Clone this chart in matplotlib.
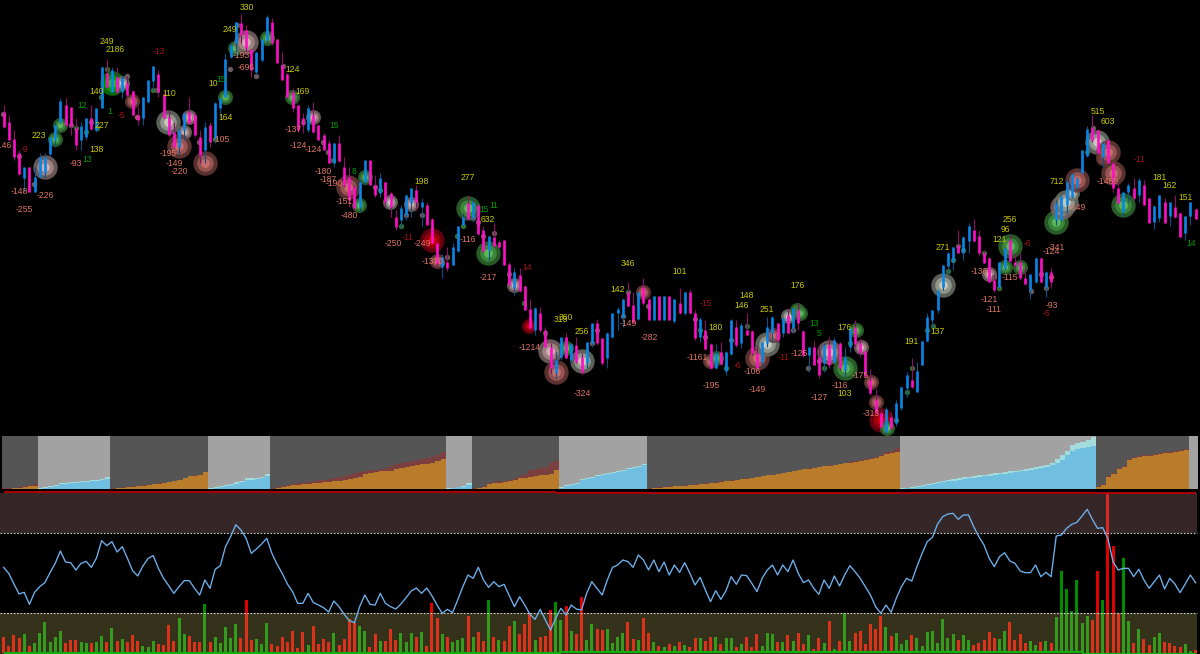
"""Trading chart: candles with trade bubbles, regime strip, oscillator and volume."""

import numpy as np
import matplotlib
matplotlib.use("Agg")
import matplotlib.pyplot as plt

# candle readings, rows in 1/3 pixel steps from the top of the chart
wick_hi = [315, 345, 390, 450, 500, 502, 500, 460, 460, 410, 370, 293, 293, 320, 355, 365, 355, 315, 323, 200,
           178, 200, 200, 225, 228, 270, 320, 290, 240, 198, 210, 280, 330, 365, 385, 340, 292, 335, 390, 365,
           365, 305, 293, 160, 130, 65, 42, 75, 148, 155, 118, 45, 55, 118, 155, 220, 265, 315, 340, 315,
           305, 375, 400, 420, 430, 405, 470, 500, 555, 535, 480, 480, 525, 520, 542, 575, 630,
           615, 585, 565, 555, 595, 605, 655, 730, 762, 742, 730, 677, 640, 585, 595, 615, 678, 708, 668, 720,
           720, 785, 805, 805, 855, 898, 920, 920, 980, 1030, 1055, 1010, 1000, 1030, 1010, 1060, 1025, 970, 958, 1015,
           995, 940, 920, 898, 845, 875, 875, 835, 895, 887, 887, 887, 887, 897, 865, 875, 868, 930, 950, 960,
           1030, 1033, 1025, 1053, 958, 960, 970, 938, 990, 1035, 1025, 950, 948, 970, 955, 925, 925, 910,
           990, 1040, 1022, 1035, 1030, 1012, 1012, 1025, 1040, 980, 960, 1015, 1053, 1108, 1168, 1228, 1220, 1235, 1200, 1158,
           1115, 1075, 1085, 1022, 940, 930, 870, 795, 755, 740, 690, 708, 670, 658, 690, 750, 770, 825, 785, 742,
           705, 760, 760, 800, 822, 772, 772, 813, 803, 600, 585, 538, 520, 530, 450, 378, 345, 388, 425, 418,
           485, 550, 573, 550, 533, 533, 540, 595, 615, 585, 595, 607, 585, 635, 648, 605, 625]
body_hi = [335, 365, 418, 460, 500, 502, 530, 470, 470, 410, 375, 303, 315, 320, 385, 378, 355, 355, 323, 200,
           220, 210, 230, 235, 250, 272, 345, 292, 240, 198, 222, 282, 350, 395, 390, 340, 335, 345, 410, 380,
           375, 310, 293, 178, 135, 65, 70, 90, 148, 155, 118, 52, 65, 118, 195, 222, 275, 315, 355, 325,
           345, 375, 405, 430, 430, 430, 500, 530, 560, 545, 480, 480, 555, 535, 545, 580, 650,
           625, 585, 565, 570, 605, 615, 658, 730, 770, 785, 740, 677, 650, 610, 605, 615, 690, 708, 710, 725,
           720, 792, 815, 825, 858, 928, 925, 938, 990, 1040, 1080, 1010, 1010, 1032, 1035, 1070, 1025, 970, 970, 1015,
           1000, 940, 928, 898, 875, 915, 875, 860, 898, 887, 887, 887, 887, 897, 908, 875, 875, 940, 958, 990,
           1032, 1060, 1055, 1055, 960, 980, 975, 990, 992, 1060, 1025, 980, 950, 970, 955, 945, 925, 930,
           992, 1042, 1042, 1070, 1035, 1035, 1020, 1028, 1070, 985, 982, 1030, 1053, 1140, 1200, 1240, 1228, 1250, 1208, 1160,
           1125, 1140, 1112, 1022, 950, 930, 870, 795, 760, 740, 735, 710, 678, 690, 708, 760, 773, 840, 785, 745,
           720, 785, 785, 835, 822, 773, 773, 815, 815, 610, 588, 545, 522, 535, 450, 388, 385, 390, 430, 420,
           490, 565, 575, 555, 565, 540, 555, 595, 617, 585, 607, 607, 622, 638, 648, 605, 627]
body_lo = [380, 420, 472, 522, 535, 575, 575, 530, 520, 462, 420, 365, 375, 378, 435, 420, 410, 388, 390, 325,
           260, 275, 275, 275, 285, 345, 360, 355, 305, 242, 275, 355, 405, 440, 440, 390, 370, 405, 465, 450,
           425, 415, 325, 290, 170, 130, 105, 145, 210, 215, 180, 120, 130, 190, 240, 292, 325, 390, 375, 390,
           395, 420, 450, 490, 490, 482, 555, 600, 625, 620, 545, 555, 585, 580, 605, 620, 680,
           660, 645, 610, 605, 620, 675, 730, 790, 800, 805, 795, 752, 675, 658, 655, 702, 752, 750, 738, 740,
           795, 855, 865, 873, 930, 985, 990, 990, 1040, 1105, 1120, 1070, 1075, 1080, 1085, 1115, 1090, 1030, 1030, 1090,
           1075, 1012, 940, 950, 918, 965, 958, 910, 960, 960, 960, 960, 960, 962, 940, 940, 940, 1015, 1010, 1048,
           1105, 1105, 1092, 1112, 1063, 1035, 1028, 1005, 1060, 1105, 1085, 1030, 1000, 1020, 1000, 1000, 985, 970,
           1065, 1065, 1095, 1125, 1090, 1095, 1085, 1105, 1110, 1040, 1032, 1060, 1128, 1180, 1240, 1280, 1295, 1285, 1270, 1225,
           1165, 1162, 1175, 1095, 1022, 960, 930, 860, 798, 785, 760, 760, 722, 722, 760, 788, 845, 870, 860, 805,
           782, 795, 835, 852, 870, 845, 845, 860, 845, 660, 660, 615, 592, 560, 520, 468, 420, 460, 470, 490,
           565, 608, 635, 575, 595, 585, 615, 668, 665, 655, 668, 648, 652, 710, 700, 648, 658]
wick_lo = [385, 420, 480, 525, 575, 575, 575, 530, 535, 470, 440, 370, 380, 405, 450, 450, 420, 390, 395, 325,
           265, 280, 280, 295, 290, 345, 375, 375, 305, 270, 290, 355, 410, 440, 465, 420, 372, 410, 490, 490,
           440, 430, 350, 290, 175, 165, 130, 160, 230, 225, 185, 130, 135, 190, 240, 295, 335, 395, 400, 395,
           400, 420, 450, 490, 500, 485, 560, 620, 630, 635, 555, 555, 590, 590, 620, 650, 690,
           685, 660, 650, 630, 677, 675, 730, 800, 835, 813, 795, 755, 675, 660, 665, 705, 755, 780, 740, 745,
           795, 855, 885, 875, 930, 990, 1005, 995, 1040, 1120, 1135, 1080, 1075, 1090, 1090, 1125, 1105, 1040, 1035, 1095,
           1105, 1015, 990, 980, 920, 970, 960, 915, 960, 960, 960, 960, 960, 970, 942, 945, 942, 1020, 1025, 1050,
           1108, 1108, 1095, 1125, 1065, 1040, 1045, 1008, 1065, 1110, 1100, 1040, 1025, 1025, 1010, 1000, 1000, 990,
           1070, 1115, 1095, 1135, 1115, 1105, 1090, 1110, 1130, 1055, 1040, 1070, 1130, 1185, 1245, 1285, 1300, 1290, 1278, 1230,
           1190, 1165, 1175, 1095, 1025, 985, 938, 870, 820, 810, 760, 780, 760, 725, 765, 790, 845, 875, 865, 810,
           785, 800, 840, 855, 898, 848, 848, 890, 865, 675, 662, 640, 595, 570, 520, 470, 425, 462, 500, 492,
           575, 610, 650, 605, 600, 605, 615, 670, 688, 665, 670, 678, 655, 710, 720, 675, 658]
candle_dir = ("mmmmbmbbbbbbmmmbbmbbmbmbmmmbbbmmmmbbmmmbmbbbbbmmmbbbmmmmmmmbmmmmbmmmmbbmmbmmm"
              "bbbmbmmmbmbbbmbmmbmmmmbmmmbmmmbbmbmmbbmmbbbbmmbmmbmbmbmbmmbmmbmbbmbmmmbbbmbmbm"
              "mbmmbmbmbbmmmmmmbmbbbmbbbbbbbbmbbmmmmmbbmmmmbbmbmbbbbbbbmmbmmmbbmbmmbbmbmmbbm")

# bubbles: column, row in pixels, size class 1-3, colour class
bubble_x = [3, 19, 34, 45, 55, 60, 71, 76, 86, 91, 97, 101, 107, 112, 122, 127, 132, 137, 153, 157, 168, 184, 189,
            179, 199, 205, 215, 225, 230, 235, 237, 246, 256, 267, 283, 292, 303, 313, 323, 328, 333, 348, 359,
            365, 375, 380, 390, 401, 406, 411, 422, 432, 437, 442, 447, 457, 463, 468, 473, 478, 483, 488, 494,
            509, 514, 524, 529, 545, 550, 566, 556, 572, 582, 592, 597, 623, 628, 643, 648, 695, 700, 705, 710,
            716, 726, 731, 747, 757, 767, 773, 788, 793, 797, 800, 808, 819, 824, 829, 845, 850, 856, 861, 871,
            876, 881, 887, 896, 907, 912, 927, 933, 943, 948, 953, 958, 963, 984, 989, 994, 999, 1005, 1010, 1020,
            1031, 1041, 1046, 1051, 1056, 1062, 1066, 1072, 1077, 1087, 1093, 1097, 1103, 1108, 1113, 1123]
bubble_y = [114, 156, 184, 167, 139, 125, 125, 128, 132, 122, 128, 97, 69, 83, 83, 76, 101, 117, 90, 90, 122, 132, 117,
            146, 142, 163, 139, 97, 69, 48, 25, 42, 76, 38, 66, 97, 122, 117, 142, 152, 160, 187, 205,
            177, 187, 190, 202, 226, 215, 204, 215, 240, 261, 263, 257, 236, 226, 208, 218, 222, 236, 253, 233,
            274, 285, 303, 326, 333, 351, 348, 372, 358, 361, 343, 330, 316, 292, 292, 306, 319, 330, 337, 361,
            358, 368, 340, 326, 358, 344, 335, 316, 330, 310, 313, 368, 361, 368, 352, 368, 343, 330, 347, 382,
            402, 420, 428, 420, 392, 368, 330, 326, 285, 271, 260, 246, 250, 253, 274, 277, 288, 267, 246, 267,
            291, 274, 288, 277, 222, 207, 202, 193, 180, 152, 128, 142, 158, 152, 173, 205]
bubble_size = [1, 1, 1, 3, 2, 2, 1, 1, 1, 1, 1, 1, 1, 3, 2, 1, 2, 1, 1, 1, 3, 2, 2,
               3, 1, 3, 1, 2, 1, 2, 1, 3, 1, 2, 1, 2, 1, 2, 1, 1, 1, 3, 2,
               2, 1, 1, 2, 1, 1, 2, 1, 3, 2, 1, 1, 1, 1, 3, 1, 1, 1, 3, 1,
               1, 2, 1, 2, 1, 3, 2, 3, 1, 3, 1, 1, 1, 1, 2, 1, 1, 1, 1, 2,
               2, 1, 1, 1, 3, 3, 2, 2, 1, 2, 2, 1, 1, 1, 3, 3, 1, 2, 2, 2,
               2, 3, 2, 1, 1, 1, 1, 1, 3, 1, 1, 1, 1, 1, 2, 1, 1, 2, 3, 2,
               1, 1, 1, 1, 3, 3, 3, 2, 3, 1, 1, 3, 2, 3, 3, 3]
bubble_kind = ("nnnpggnddndddGwnrrddwpp"
               "rnrdgngnpngngdpnndrg"
               "gndwdnpnRrnnddgnnngn"
               "npdRdpgrnwnnndrnndnr"
               "gdndrwrwnggnndpgdgpr"
               "rRgdddddwdddddpndggg"
               "nnnrgpwwrdnwrrrg")

# text labels: column, row in pixels, text, colour class
label_x = [3, 24, 39, 82, 76, 87, 97, 102, 97, 110, 121, 107, 115, 19, 45, 24,
           159, 169, 168, 174, 179, 226, 221, 213, 221, 230, 247, 241, 246, 293, 303,
           293, 298, 313, 334, 323, 328, 334, 354, 344, 349,
           422, 407, 393, 422, 433, 468, 484, 494, 488, 468, 488, 527, 530, 628, 618,
           680, 706, 747, 742, 767, 716, 628, 649, 697, 737, 752, 711, 757, 783, 799,
           566, 561, 582, 582, 798,
           814, 819, 845, 860, 840, 845, 819, 871, 912, 938, 943, 1010, 1005, 1000, 1027,
           979, 1010, 989, 994, 1056, 1051, 1052, 1046, 1057, 1077, 1098, 1108, 1139, 1108,
           1160, 1170, 1186, 1191]
label_y = [146, 150, 136, 105, 163, 160, 150, 125, 91, 112, 115, 42, 49, 192, 195, 209,
           52, 94, 153, 163, 171, 118, 139, 84, 80, 29, 7, 56, 67, 69, 91,
           129, 146, 150, 125, 171, 180, 184, 171, 202, 216,
           181, 237, 244, 243, 261, 177, 209, 205, 219, 240, 278, 268, 348, 264, 289,
           271, 303, 296, 306, 310, 327, 323, 337, 358, 365, 372, 386, 389, 358, 354,
           317, 320, 331, 393, 286,
           323, 334, 327, 375, 386, 393, 397, 414, 341, 331, 247, 219, 229, 240, 243,
           271, 278, 299, 309, 247, 252, 306, 314, 181, 208, 112, 122, 160, 181,
           177, 185, 198, 243]
label_text = ["-146", "-9", "223", "12", "-93", "13", "138", "227", "140", "1", "-5", "249", "2186", "-148", "-226", "-255",
              "-13", "110", "-195", "-149", "-220", "164", "-105", "10", "15", "249", "330", "-193", "-696", "124", "169",
              "-137", "-124", "-124", "15", "-180", "-187", "-190", "8", "-151", "-480",
              "198", "-11", "-250", "-249", "-1370", "277", "15", "11", "632", "-116", "-217", "14", "-1214", "346", "142",
              "101", "-15", "148", "146", "251", "180", "-149", "-282", "-1161", "-6", "-106", "-195", "-149", "-11", "-125",
              "360", "313", "256", "-324", "176",
              "13", "5", "176", "-175", "-116", "103", "-127", "-313", "191", "137", "271", "256", "96", "121", "-6",
              "-136", "-115", "-121", "-111", "-341", "-124", "-93", "-5", "712", "-549", "515", "603", "-11", "-1489",
              "181", "162", "151", "14"]
label_kind = ("sdygsgyyygdyysss"
              "dysssysygyyssyy"
              "sssgsssgss"
              "ydsssyggyssdsyy"
              "ydyyyysssdsssds"
              "yyysy"
              "ggyssyssyyyyyyd"
              "sssssssdysyyds"
              "yyyg")

# regime strip: bars in each alternating dark/light run, then stacked heights
regime_len = [7, 14, 19, 12, 34, 5, 17, 17, 49, 38, 18, 2]
area_main = [0.5, 0.5, 1, 1.5, 2, 3, 3.5,
             0.5, 1.5, 2.5, 3.5, 5, 5.5, 6, 6.5, 7, 7.5, 8, 8.5, 9, 10.5,
             0.5, 1, 1.5, 2, 2.5, 3, 3.5, 4, 5, 5.5, 6, 7, 8, 9, 11, 13, 13.5, 14, 17,
             0.5, 1.5, 2.5, 3.5, 4.5, 5, 7, 9, 9.5, 10, 11, 13,
             0.5, 1, 2, 3, 4, 4.5, 5, 5.5, 6, 6.5, 7, 7.5, 8, 8.5, 9, 10, 11, 12, 15, 16, 17, 18, 18, 18.5, 20, 21, 22,
             23, 24, 25, 25.5, 26, 28, 30,
             0.5, 1, 2, 2.5, 4.5,
             0.5, 1, 2, 5, 6, 6.5, 7, 8, 9.5, 11, 11.5, 12, 13.5, 14, 14, 15, 19,
             1, 3, 4, 5, 9, 10, 11, 13, 14, 15, 16, 17, 18, 20, 21, 22, 24,
             0.5, 1, 1.5, 2, 2.5, 3, 3, 3.5, 4, 4.5, 5, 5.5, 6, 6.5, 7.5, 8, 8.5, 9, 10, 10.5, 11, 12, 13, 14, 14, 15,
             16, 17, 18, 19, 20, 20.5, 21, 22, 23, 23.5, 24, 25, 26, 26.5, 27, 28, 29, 30, 31, 33, 35, 36, 37.5,
             0.5, 1, 1.5, 2.5, 3.5, 4.5, 5.5, 6, 7, 8, 8.5, 9.5, 10, 11, 11.5, 12, 13, 13.5, 14, 15, 15.5, 16, 17, 18,
             18.5, 19.5, 20, 21, 22, 24, 26, 29, 34, 38, 40, 41, 42, 43,
             2, 4, 12, 15, 20, 22, 29, 31, 32, 33, 33, 34, 35, 36, 36, 37, 38, 39,
             0, 0]
area_top = [1, 1, 1.5, 2.5, 3.5, 4.5, 5,
            1, 2, 3, 4.5, 6, 6.5, 7, 7.5, 8, 8.5, 9, 9.5, 10, 11.7,
            0.8, 1.3, 1.8, 2.3, 2.8, 3.3, 3.8, 4.3, 5.3, 5.8, 6.3, 7.3, 8.3, 9.3, 11.3, 13.3, 13.8, 14.3, 17.3,
            0.8, 1.8, 3, 4, 5.5, 7, 8.5, 11, 11, 11.5, 12.5, 14.7,
            1, 2, 3, 4, 5, 6, 6.5, 7, 8, 9, 9.5, 10, 11, 12, 13, 14, 16, 17, 18, 19, 19, 20, 21, 23, 25, 26, 27, 28, 29,
            30, 31, 32, 34, 37,
            1, 1.5, 2.5, 3, 5.7,
            1, 1.5, 3, 6, 7, 8, 8, 9.5, 11, 13, 15, 19, 20, 21, 22, 26, 28,
            2, 4, 5, 6, 10, 11, 12, 14, 15, 16, 17, 18, 19, 21, 22, 23, 25,
            1, 1.5, 2, 2.5, 3, 3.5, 3.5, 4, 4.5, 5, 5.5, 6, 6.5, 7, 8, 8.5, 9, 9.5, 10.5, 11, 11.5, 12.5, 13.5, 14.5,
            14.5, 15.5, 16.5, 17.5, 18.5, 19.5, 20.5, 21, 21.5, 22.5, 23.5, 24, 24.5, 25.5, 26.5, 27, 28, 29, 30, 31,
            32, 34, 37, 38, 41,
            1, 1.5, 2, 3, 4, 5, 6, 7, 8, 9, 10, 11, 12, 12.5, 13, 14, 14.5, 15, 16, 16.5, 17, 18, 18.5, 19, 20, 21, 22,
            23, 24, 26, 30, 34, 38, 44, 46, 47, 49, 52,
            2.7, 4.7, 12.7, 15.7, 20.7, 22.7, 29.7, 31.7, 32.7, 33.7, 33.7, 34.7, 35.7, 36.7, 36.7, 37.7, 38.7, 39.7,
            0, 0]

# oscillator readings, rows in 1/3 pixel steps below row 430
osc_row = [412, 430, 462, 492, 487, 523, 487, 470, 458, 428, 400, 363, 396, 398, 420, 400, 394, 412, 384, 332,
           347, 335, 366, 350, 385, 422, 438, 408, 385, 377, 415, 445, 467, 490, 470, 452, 452, 475, 495, 450,
           475, 418, 407, 350, 320, 284, 300, 325, 370, 357, 342, 325, 370, 403, 430, 462, 485, 520, 520, 490,
           517, 525, 533, 546, 513, 530, 553, 572, 578, 530, 495, 523, 525, 490, 520, 530, 537,
           522, 503, 483, 474, 490, 474, 497, 525, 550, 538, 548, 510, 470, 435, 445, 412, 450, 472, 455, 470,
           463, 497, 530, 500, 525, 553, 568, 538, 570, 600, 565, 535, 555, 525, 537, 540, 490, 455, 475, 495,
           450, 412, 405, 390, 395, 412, 375, 390, 420, 390, 425, 396, 435, 405, 427, 398, 430, 465, 442, 480,
           515, 482, 508, 482, 440, 463, 435, 437, 460, 485, 445, 420, 405, 435, 405, 425, 390, 430,
           458, 450, 475, 493, 450, 475, 438, 468, 435, 407, 425, 445, 470, 495, 530, 550, 525, 547, 505, 470,
           445, 453, 410, 370, 335, 322, 282, 260, 252, 250, 268, 255, 255, 290, 320, 345, 385, 410, 380, 368,
           393, 400, 423, 428, 428, 405, 440, 427, 440, 318, 315, 295, 283, 277, 258, 238, 268, 295, 293, 325,
           395, 420, 415, 415, 440, 418, 450, 475, 455, 435, 477, 445, 462, 488, 462, 435, 458]

# volume bars, height in 1/3 pixel steps
volume = [48, 23, 55, 45, 58, 23, 30, 62, 93, 35, 48, 67, 30, 40, 40, 33, 30, 30, 35, 52, 33, 75, 37, 42, 33, 55, 37,
          23, 18, 37, 28, 25, 85, 37, 106, 57, 52, 34, 34, 149, 33, 50, 32, 79, 46, 87, 45, 160, 40, 42, 29, 90, 28,
          22, 50, 34, 67, 17, 64, 25, 82, 28, 42, 33, 60, 25, 42, 104, 92, 83, 66, 20, 58, 38, 37, 72, 40,
          60, 33, 60, 48, 65, 23, 152, 106, 58, 50, 35, 40, 46, 112, 48, 64, 38, 159, 50, 40, 37, 83, 97, 58, 87, 122,
          40, 48, 52, 131, 155, 100, 141, 68, 58, 170, 40, 87, 72, 70, 73, 30, 48, 62, 95, 43, 39, 106, 60, 34, 23, 18,
          27, 23, 33, 25, 18, 45, 45, 37, 48, 50, 28, 45, 46, 19, 27, 50, 20, 58, 22, 62, 58, 33, 35, 55, 37, 60,
          28, 55, 13, 47, 30, 97, 12, 37, 120, 37, 62, 68, 28, 89, 73, 112, 80, 52, 62, 29, 40, 55, 45, 22, 65, 68, 30,
          103, 46, 58, 40, 55, 41, 25, 31, 39, 63, 47, 43, 67, 94, 41, 58, 30, 37, 25, 34, 38, 31, 108, 248, 194, 127,
          219, 90, 111, 101, 247, 159, 480, 323, 120, 287, 97, 32, 73, 43, 25, 50, 60, 33, 32, 23, 18, 27, 6, 10]
volume_dir = ("rrrrgrggggggrrrggrggrgrgrrrgggrrrrggrrrgrgggggrrrgggrrrrrrrgrrrrgrrrrggrrgrrr"
              "gggrgrrrgrgggrgrrgrgrrgrrrgrrrggrgrrggrrggggrrgrrgrgrgrgrrgrrgrggrgrrrgggrgrgr"
              "rgrrgrgrggrrrrrrgrgggrggggggggrggrrrrrggrrrrggrgrgggggggrrgrrrggrgrrggrrrrggr")

# signal lines along the panel edges: bar where each level starts, and its row
red_start = [0, 107, 210]
red_row = [186, 190, 188]
green_start = [0, 108, 209]
green_row = [669, 666, 671]

# outer ring, middle ring, centre
BUBBLE_COLORS = {"g": ("#2f6b2f", "#3f8f3f", "#63bf63"),
                 "G": ("#0a7a0a", "#0aa00a", "#20d020"),
                 "w": ("#6c7268", "#9aa094", "#d0d0c2"),
                 "p": ("#7c6666", "#a88a8a", "#d8b8b8"),
                 "r": ("#6a3a38", "#a05a58", "#d07070"),
                 "R": ("#700010", "#a00010", "#e00010")}
DOT_COLORS = {"n": "#6a5a5a", "d": "#336b33", "g": "#3f8f3f", "r": "#a05a58", "p": "#b09090"}
LABEL_COLORS = {"y": "#c8c800", "g": "#009a00", "s": "#e07462", "d": "#a01414"}
BUBBLE_RADIUS = {1: 2.7, 2: 7.5, 3: 12.2}


def panel(fig, row_top, row_bottom):
    ax = fig.add_axes([0, 1 - row_bottom / 654, 1, (row_bottom - row_top) / 654])
    ax.set_facecolor("none")
    ax.set_xlim(0, 1200)
    ax.axis("off")
    return ax


def draw_candles(ax, bar_x):
    hi, lo = np.array(wick_hi) / 3, np.array(wick_lo) / 3
    top, bot = np.array(body_hi) / 3, np.array(body_lo) / 3
    is_up = np.array([c == "b" for c in candle_dir])
    for mask, wick_color, body_color in [(is_up, "#0c5088", "#0a86e8"), (~is_up, "#8c0e6a", "#ff10c8")]:
        ax.vlines(bar_x[mask], hi[mask], lo[mask], color=wick_color, linewidth=0.8, capstyle="butt", zorder=3)
        ax.vlines(bar_x[mask], top[mask], bot[mask], color=body_color, linewidth=1.9, capstyle="butt", zorder=4)


def draw_bubbles(ax):
    rings = [(1.0, 0), (0.68, 1), (0.36, 2)]
    for x, y, size, kind in zip(bubble_x, bubble_y, bubble_size, bubble_kind):
        radius = BUBBLE_RADIUS[size]
        if size == 1:
            ax.scatter(x, y, s=(2 * radius * 0.72) ** 2, color=DOT_COLORS[kind], linewidths=0, zorder=2.5)
            continue
        for scale, idx in rings:
            ax.scatter(x, y, s=(2 * radius * scale * 0.72) ** 2, color=BUBBLE_COLORS[kind][idx],
                       alpha=0.85, linewidths=0, zorder=2)


def draw_regimes(ax, bar_x):
    edges = np.concatenate([[2], (bar_x[:-1] + bar_x[1:]) / 2 + 1, [1198]])
    start = 0
    for run, n_bars in enumerate(regime_len):
        stop = start + n_bars
        light = run % 2 == 1
        ax.axvspan(edges[start], edges[stop], color="#a2a2a2" if light else "#555555", linewidth=0)
        span = edges[start:stop + 1]
        ax.stairs(area_top[start:stop], span, fill=True, color="#a2dcdc" if light else "#7c3f3f")
        ax.stairs(area_main[start:stop], span, fill=True, color="#70bee0" if light else "#b97c2a")
        start = stop


def draw_steps(ax, bar_x, starts, rows, color):
    ends = starts[1:] + [len(bar_x) - 1]
    for first, last, row in zip(starts, ends, rows):
        ax.plot([bar_x[first], bar_x[last]], [row, row], color=color, linewidth=1.5, solid_capstyle="butt", zorder=5)


def main():
    n_bars = len(wick_hi)
    bar_x = 3.6 + 5.16 * np.arange(n_bars)

    fig = plt.figure(figsize=(12, 6.54), dpi=100, facecolor="black")
    plt.rcParams["font.family"] = ["Liberation Sans", "DejaVu Sans"]

    ax_price = panel(fig, 0, 435)
    ax_price.set_ylim(435, 0)
    draw_bubbles(ax_price)
    draw_candles(ax_price, bar_x)
    for x, y, text, kind in zip(label_x, label_y, label_text, label_kind):
        ax_price.text(x, y, text, color=LABEL_COLORS[kind], fontsize=6.2, ha="center", va="center", zorder=6)

    ax_strip = panel(fig, 436, 489)
    ax_strip.set_ylim(0, 53)
    draw_regimes(ax_strip, bar_x)

    # volume sits under the tinted bands, the oscillator above them
    ax_vol = panel(fig, 490, 654)
    ax_vol.set_ylim(-2, 490)
    vol_colors = ["#e00000" if c == "r" else "#008c00" for c in volume_dir]
    ax_vol.bar(bar_x, volume, width=3.0, color=vol_colors, linewidth=0)

    ax_osc = panel(fig, 490, 654)
    ax_osc.set_ylim(672, 180)
    ax_osc.axhspan(190, 310, xmin=0, xmax=1197 / 1200, color="#d498a0", alpha=0.25, linewidth=0)
    ax_osc.axhspan(550, 672, xmin=0, xmax=1197 / 1200, color="#d4c870", alpha=0.25, linewidth=0)
    for row in (310, 550):
        ax_osc.plot([0, 1197], [row, row], color="#d0d0d0", linewidth=0.8, linestyle=(0, (1.5, 1.5)))
    ax_osc.plot(bar_x, osc_row, color="#6fb2ee", linewidth=0.95)
    draw_steps(ax_osc, bar_x, red_start, red_row, "#a80000")
    draw_steps(ax_osc, bar_x, green_start, green_row, "#10b010")

    fig.savefig("out.png", dpi=100, facecolor="black")


if __name__ == "__main__":
    main()
